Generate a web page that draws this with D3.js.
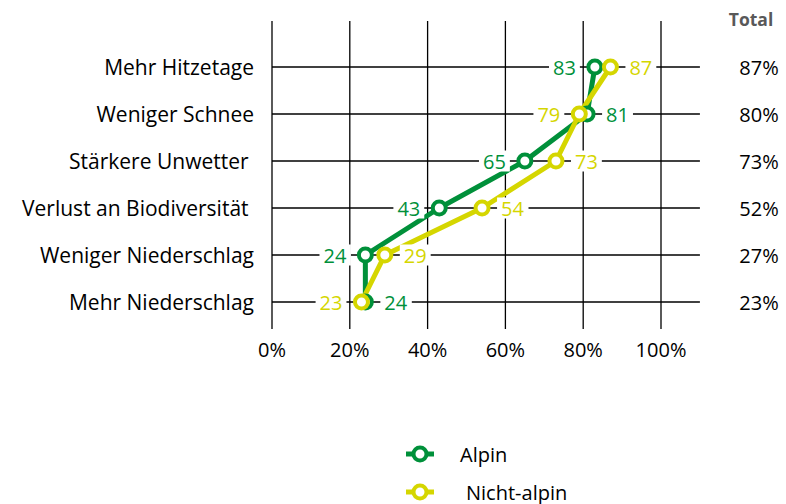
<!DOCTYPE html>
<html>
<head>
<meta charset="utf-8">
<script src="https://cdn.jsdelivr.net/npm/d3@7"></script>
<style>
  body { margin: 0; background: #fff; }
  svg text { font-family: "Open Sans", "Noto Sans", sans-serif; }
</style>
</head>
<body>
<div id="chart"></div>
<script>
const categories = ['Mehr Hitzetage', 'Weniger Schnee', 'Stärkere Unwetter ', 'Verlust an Biodiversität ', 'Weniger Niederschlag', 'Mehr Niederschlag']
const alpin = [83, 81, 65, 43, 24, 24]
const nichtAlpin = [87, 79, 73, 54, 29, 23]
const total = [87, 80, 73, 52, 27, 23]
const xTicks = [0, 20, 40, 60, 80, 100]

const green = '#00903A'
const yellow = '#D5D600'
const fs = 20

const width = 786, height = 504

const svg = d3.select('#chart').append('svg')
  .attr('width', width)
  .attr('height', height)

const x = d3.scaleLinear().domain([0, 100]).range([272, 661])
const y = d3.scalePoint().domain(categories).range([67, 302])

// vertical grid
svg.append('g')
  .selectAll('line')
  .data(xTicks)
  .join('line')
  .attr('x1', d => x(d)).attr('x2', d => x(d))
  .attr('y1', 21).attr('y2', 329)
  .attr('stroke', '#000').attr('stroke-width', 1.3)

// horizontal grid (to 110%)
svg.append('g')
  .selectAll('line')
  .data(categories)
  .join('line')
  .attr('x1', x(0)).attr('x2', x(110))
  .attr('y1', d => y(d)).attr('y2', d => y(d))
  .attr('stroke', '#000').attr('stroke-width', 1.3)

// x tick labels
svg.append('g')
  .selectAll('text')
  .data(xTicks)
  .join('text')
  .attr('x', d => x(d)).attr('y', 349)
  .attr('text-anchor', 'middle')
  .attr('dominant-baseline', 'central')
  .attr('font-size', fs)
  .text(d => d + '%')

// category labels
svg.append('g')
  .selectAll('text')
  .data(categories)
  .join('text')
  .attr('x', 254).attr('y', d => y(d))
  .attr('text-anchor', 'end')
  .attr('dominant-baseline', 'central')
  .attr('font-size', 21)
  .style('white-space', 'pre')
  .text(d => d)

// total column
svg.append('text')
  .attr('x', 751).attr('y', 19)
  .attr('text-anchor', 'middle')
  .attr('dominant-baseline', 'central')
  .attr('font-size', 17.5).attr('font-weight', 'bold')
  .attr('fill', '#595959')
  .text('Total')

svg.append('g')
  .selectAll('text')
  .data(total)
  .join('text')
  .attr('x', 759).attr('y', (d, i) => y(categories[i]))
  .attr('text-anchor', 'middle')
  .attr('dominant-baseline', 'central')
  .attr('font-size', fs)
  .text(d => d + '%')

const series = [
  { name: 'Alpin', values: alpin, other: nichtAlpin, color: green },
  { name: 'Nicht-alpin', values: nichtAlpin, other: alpin, color: yellow }
]

const line = d3.line()
  .x(d => x(d[0]))
  .y(d => y(d[1]))

series.forEach(s => {
  svg.append('path')
    .datum(s.values.map((v, i) => [v, categories[i]]))
    .attr('d', line)
    .attr('fill', 'none')
    .attr('stroke', s.color)
    .attr('stroke-width', 5)
    .attr('stroke-linejoin', 'round')
})

series.forEach(s => {
  svg.append('g')
    .selectAll('circle')
    .data(s.values)
    .join('circle')
    .attr('cx', d => x(d))
    .attr('cy', (d, i) => y(categories[i]))
    .attr('r', 6.5)
    .attr('fill', '#fff')
    .attr('stroke', s.color)
    .attr('stroke-width', 4)
})

// data labels with white backing
series.forEach(s => {
  const g = svg.append('g')
  s.values.forEach((v, i) => {
    const right = v > s.other[i]
    const tx = right ? x(v) + 19 : x(v) - 19
    const t = g.append('text')
      .attr('x', tx).attr('y', y(categories[i]))
      .attr('text-anchor', right ? 'start' : 'end')
      .attr('dominant-baseline', 'central')
      .attr('font-size', fs)
      .attr('fill', s.color)
      .text(v)
    const b = t.node().getBBox()
    g.insert('rect', () => t.node())
      .attr('x', b.x - 4).attr('y', b.y + 3)
      .attr('width', b.width + 8).attr('height', b.height - 6)
      .attr('fill', '#fff')
  })
})

// legend
const legend = [
  { name: 'Alpin', color: green, y: 454, tx: 460 },
  { name: 'Nicht-alpin', color: yellow, y: 492, tx: 466 }
]
legend.forEach(l => {
  svg.append('line')
    .attr('x1', 406).attr('x2', 434)
    .attr('y1', l.y).attr('y2', l.y)
    .attr('stroke', l.color).attr('stroke-width', 5)
  svg.append('circle')
    .attr('cx', 420).attr('cy', l.y).attr('r', 6.5)
    .attr('fill', '#fff').attr('stroke', l.color).attr('stroke-width', 4)
  svg.append('text')
    .attr('x', l.tx).attr('y', l.y)
    .attr('dominant-baseline', 'central')
    .attr('font-size', fs)
    .text(l.name)
})
</script>
</body>
</html>
